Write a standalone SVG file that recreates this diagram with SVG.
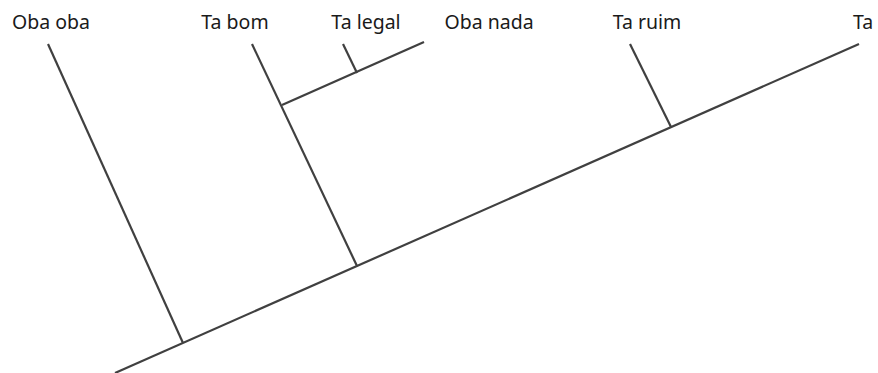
<svg xmlns="http://www.w3.org/2000/svg" width="878" height="373" viewBox="0 0 878 373">
<style>
.l{stroke:#404040;stroke-width:2.2;fill:none;stroke-linecap:butt}
text{font-family:"Noto Sans","Open Sans",sans-serif;font-size:19.5px;fill:#1a1a1a;text-anchor:middle}
</style>
<rect width="878" height="373" fill="#fff"/>
<g id="connectors">
<line class="l" x1="115" y1="373" x2="859" y2="44"/>
<line class="l" x1="48" y1="44" x2="183" y2="343"/>
<line class="l" x1="252" y1="44" x2="357" y2="266"/>
<line class="l" x1="282" y1="105" x2="424" y2="42"/>
<line class="l" x1="343" y1="44" x2="357" y2="73"/>
<line class="l" x1="630" y1="44" x2="671" y2="127"/>
</g>
<g id="n1"><text x="51" y="29">Oba oba</text></g>
<g id="n2"><text x="235" y="29">Ta bom</text></g>
<g id="n3"><text x="366" y="29">Ta legal</text></g>
<g id="n4"><text x="489" y="29">Oba nada</text></g>
<g id="n5"><text x="647" y="29">Ta ruim</text></g>
<g id="n6"><text x="853" y="29" style="text-anchor:start">Ta</text></g>
</svg>
